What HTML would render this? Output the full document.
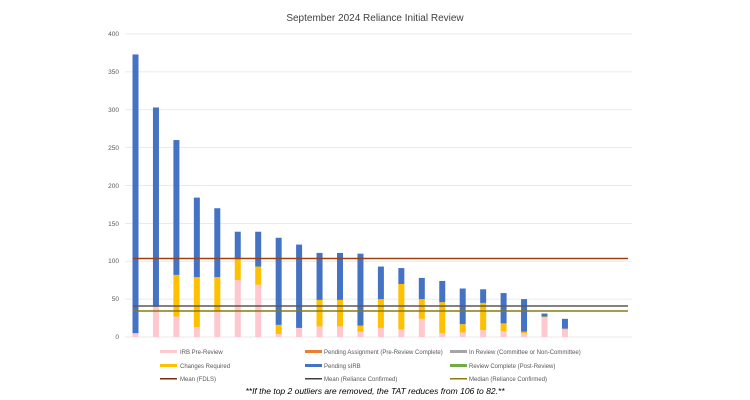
<!DOCTYPE html>
<html><head><meta charset="utf-8"><style>
body{margin:0;background:#fff;}
svg{display:block;font-family:"Liberation Sans",sans-serif;}
</style></head><body>
<svg id="s" width="750" height="400" viewBox="0 0 750 400">
<text x="375" y="21" text-anchor="middle" font-size="10" fill="#404040">September 2024 Reliance Initial Review</text>
<g font-size="6.5" fill="#595959" text-anchor="end">
<text x="119" y="36">400</text><text x="119" y="74">350</text><text x="119" y="112">300</text>
<text x="119" y="150">250</text><text x="119" y="188">200</text><text x="119" y="226">150</text>
<text x="119" y="263">100</text><text x="119" y="301">50</text><text x="119" y="339">0</text>
</g>
<g id="grid" stroke="#e3e3e3" stroke-width="0.8"></g>
<g id="bars"></g>
<line x1="133" x2="628" y1="258.5" y2="258.5" stroke="#a0400f" stroke-width="1.6"/>
<line x1="133" x2="628" y1="306" y2="306" stroke="#595959" stroke-width="1.6"/>
<line x1="133" x2="628" y1="311" y2="311" stroke="#8a7a10" stroke-width="1.6"/>
<g font-size="6" fill="#595959">
<rect x="160" y="350" width="17" height="3" fill="#ffc7ce"/><text x="180" y="354">IRB Pre-Review</text>
<rect x="305" y="350" width="17" height="3" fill="#ed7d31"/><text x="324" y="354">Pending Assignment (Pre-Review Complete)</text>
<rect x="450" y="350" width="17" height="3" fill="#a5a5a5"/><text x="469" y="354">In Review (Committee or Non-Committee)</text>
<rect x="160" y="364" width="17" height="3" fill="#ffc000"/><text x="180" y="368">Changes Required</text>
<rect x="305" y="364" width="17" height="3" fill="#4472c4"/><text x="324" y="368">Pending sIRB</text>
<rect x="450" y="364" width="17" height="3" fill="#70ad47"/><text x="469" y="368">Review Complete (Post-Review)</text>
<rect x="160" y="378" width="17" height="1.5" fill="#7b2c10"/><text x="180" y="381">Mean (FDLS)</text>
<rect x="305" y="378" width="17" height="1.5" fill="#404040"/><text x="324" y="381">Mean (Reliance Confirmed)</text>
<rect x="450" y="378" width="17" height="1.5" fill="#8a7a10"/><text x="469" y="381">Median (Reliance Confirmed)</text>
</g>
<text x="375" y="394" text-anchor="middle" font-size="8.5" font-style="italic" fill="#000">**If the top 2 outliers are removed, the TAT reduces from 106 to 82.**</text>
</svg>
<script>
var ns="http://www.w3.org/2000/svg";
function el(p,t,a){var e=document.createElementNS(ns,t);for(var k in a)e.setAttribute(k,a[k]);p.appendChild(e);}
var g=document.getElementById("grid");
for(var i=0;i<=8;i++){var y=337-i*50*0.7575;el(g,"line",{x1:125,x2:632,y1:y,y2:y});}
var d=[[5,5,373],[40,40,303],[27,82,260],[13,79,184],[34,79,170],[75,104,139],[69,93,139],[4,16,131],[12,12,122],[14,49,111],[14,49,111],[7,15,110],[12,50,93],[10,70,91],[24,50,78],[5,46,74],[6,17,64],[9,45,63],[8,18,58],[5,7,50],[26,27,31],[10,11,24]];
var b=document.getElementById("bars");
function Y(v){return 337-v*0.7575;}
d.forEach(function(r,i){var x=132.5+i*20.45;
el(b,"rect",{x:x,y:Y(r[0]),width:6,height:r[0]*0.7575,fill:"#ffc7ce"});
if(r[1]>r[0])el(b,"rect",{x:x,y:Y(r[1]),width:6,height:(r[1]-r[0])*0.7575,fill:"#ffc000"});
el(b,"rect",{x:x,y:Y(r[2]),width:6,height:(r[2]-r[1])*0.7575,fill:"#4472c4"});
});
</script>
</body></html>
